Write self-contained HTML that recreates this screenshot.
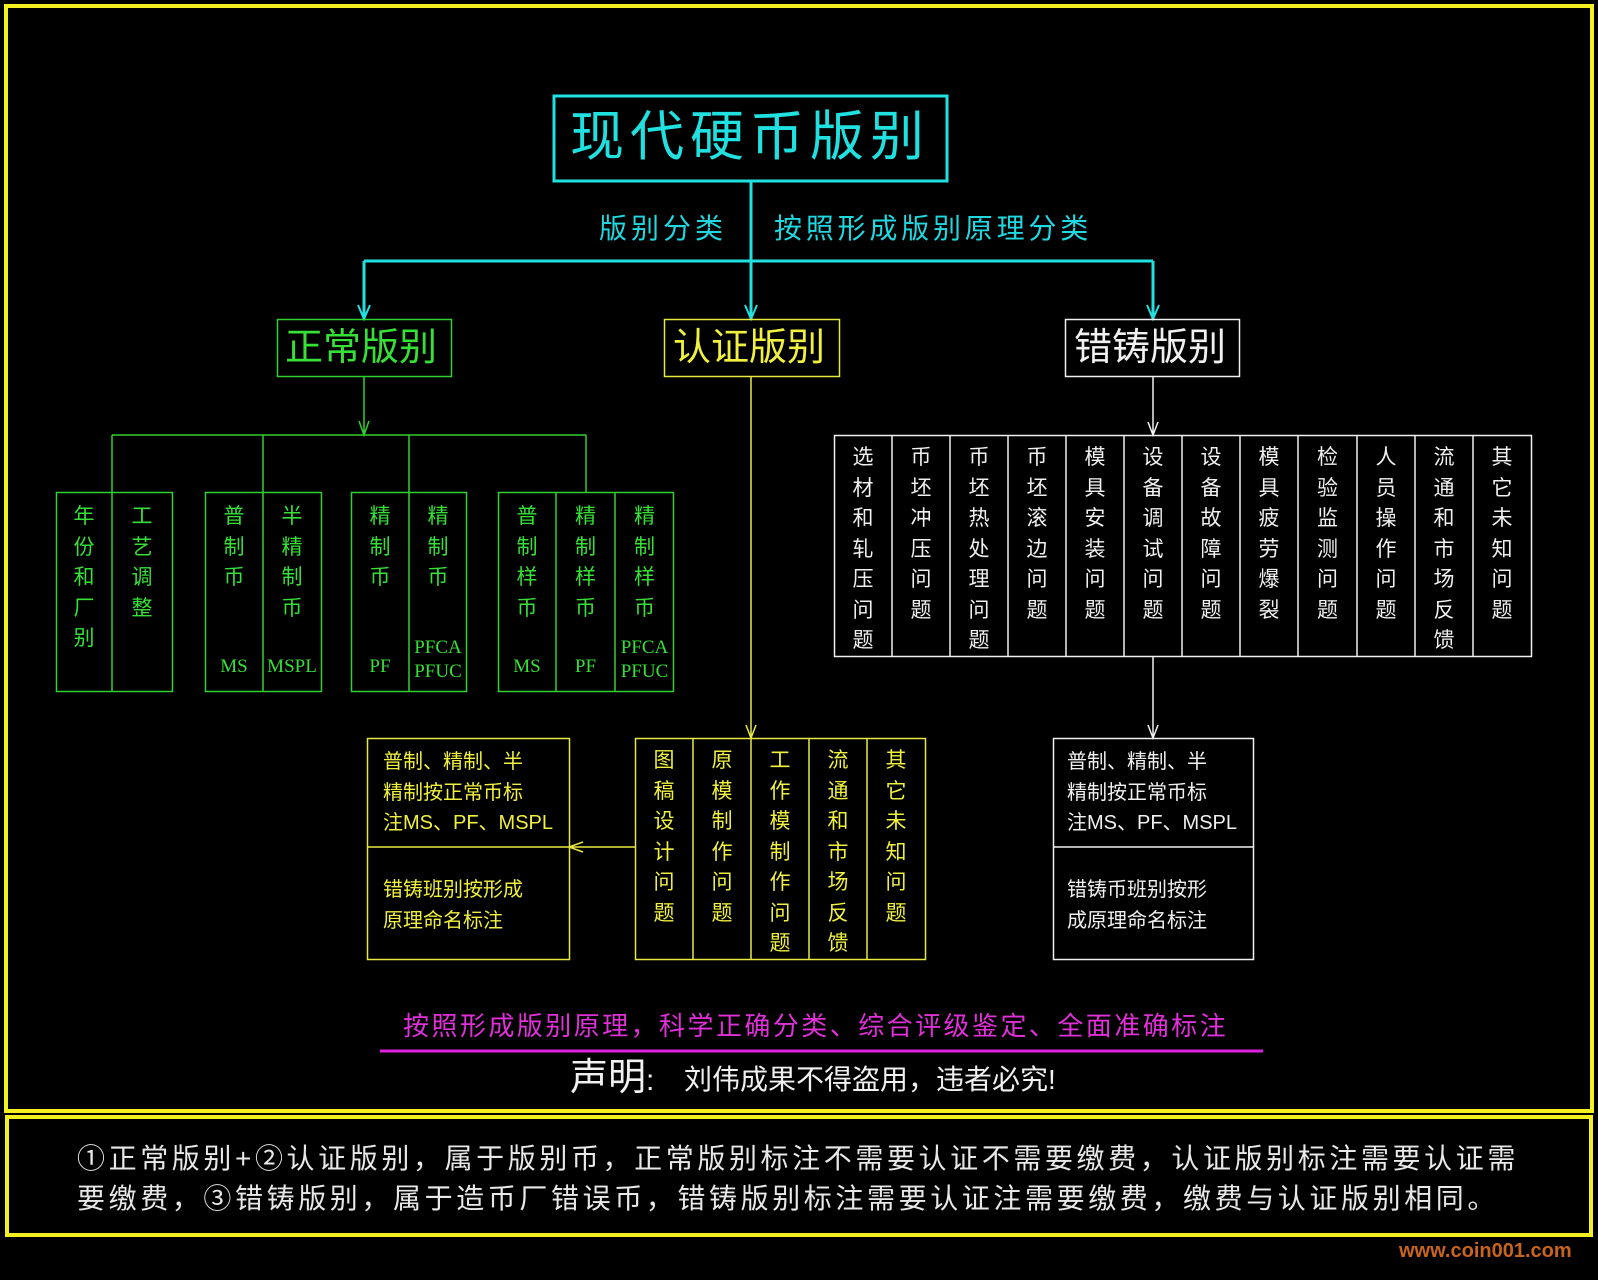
<!DOCTYPE html>
<html><head><meta charset="utf-8"><style>
body{margin:0;background:#000;}
#p{position:relative;width:1598px;height:1280px;background:#000;overflow:hidden;font-family:"Liberation Sans","Noto Sans CJK SC",sans-serif;}
.a{position:absolute;white-space:nowrap;}
.c{position:absolute;text-align:center;font-size:21px;line-height:30.5px;}
.c span{display:block;width:1.05em;margin:0 auto;word-break:break-all;white-space:normal;}
.g{color:#36e036;}.y{color:#f0f040;}.w{color:#f0f0f0;}
.lb{position:absolute;text-align:center;font-size:19px;font-family:"Liberation Serif","Noto Serif CJK SC",serif;line-height:24px;}
</style></head><body><div id="p">
<svg width="1598" height="1280" style="position:absolute;left:0;top:0">
<g fill="none">
<rect x="6" y="6" width="1586" height="1105" stroke="#f4f020" stroke-width="4"/>
<rect x="7" y="1117" width="1584" height="118" stroke="#f4f020" stroke-width="4"/>
<rect x="554" y="96" width="393" height="85" stroke="#20e0e0" stroke-width="3"/>
<g stroke="#20e0e0" stroke-width="3">
<path d="M751 181V319M364 261H1153M364 261V319M1153 261V319"/>
<path d="M358 305L364 319L370 305M745 305L751 319L757 305M1147 305L1153 319L1159 305" stroke-width="2"/>
</g>
<rect x="277.5" y="319.5" width="174" height="57" stroke="#30d030" stroke-width="1.5"/>
<rect x="664.5" y="319.5" width="175" height="57" stroke="#e8e840" stroke-width="1.5"/>
<rect x="1065.5" y="319.5" width="174" height="57" stroke="#f0f0f0" stroke-width="1.5"/>
<g stroke="#30d030" stroke-width="1.5">
<path d="M364 377V435M359 421L364 435L369 421M112 435H586M112 435V492M263 435V492M409 435V492M586 435V492"/>
<rect x="56.5" y="492.5" width="116" height="199"/><path d="M112 492V692"/>
<rect x="205.5" y="492.5" width="116" height="199"/><path d="M263 492V692"/>
<rect x="351.5" y="492.5" width="115" height="199"/><path d="M409 492V692"/>
<rect x="498.5" y="492.5" width="175" height="199"/><path d="M556 492V692M615 492V692"/>
</g>
<g stroke="#e8e840" stroke-width="1.5">
<path d="M751 377V738M746 725L751 738L756 725"/>
<rect x="635.5" y="738.5" width="290" height="221"/><path d="M693 738V960M751 738V960M809 738V960M867 738V960"/>
<rect x="367.5" y="738.5" width="202" height="221"/><path d="M367 847H635M583 842L569 847L583 852"/>
</g>
<g stroke="#f0f0f0" stroke-width="1.5">
<path d="M1153 377V435M1148 422L1153 435L1158 422"/>
<rect x="834.5" y="435.5" width="697" height="221"/>
<path d="M892 435V657M950 435V657M1008 435V657M1066 435V657M1124 435V657M1182 435V657M1240 435V657M1298 435V657M1357 435V657M1415 435V657M1473 435V657"/>
<path d="M1153 657V738M1148 725L1153 738L1158 725"/>
<rect x="1053.5" y="738.5" width="200" height="221"/><path d="M1053 847H1254"/>
</g>
<path d="M380 1051H1263" stroke="#e020e0" stroke-width="3"/>
</g></svg>

<div class="a" style="left:570px;top:105px;font-size:54px;color:#20e0e0;line-height:64px;letter-spacing:6px;">现代硬币版别</div>
<div class="a" style="left:599px;top:207px;font-size:28px;color:#20d8e0;letter-spacing:4px;">版别分类</div>
<div class="a" style="left:774px;top:207px;font-size:28px;color:#20d8e0;letter-spacing:3.8px;">按照形成版别原理分类</div>
<div class="a g" style="left:285px;top:326px;font-size:38px;line-height:44px;">正常版别</div>
<div class="a y" style="left:673px;top:326px;font-size:38px;line-height:44px;">认证版别</div>
<div class="a w" style="left:1074px;top:326px;font-size:38px;line-height:44px;">错铸版别</div>

<div class="c g" style="left:56px;top:502px;width:56px"><span>年份和厂别</span></div>
<div class="c g" style="left:112px;top:502px;width:60px"><span>工艺调整</span></div>
<div class="c g" style="left:205px;top:502px;width:58px"><span>普制币</span></div>
<div class="c g" style="left:263px;top:502px;width:58px"><span>半精制币</span></div>
<div class="c g" style="left:351px;top:502px;width:58px"><span>精制币</span></div>
<div class="c g" style="left:409px;top:502px;width:58px"><span>精制币</span></div>
<div class="c g" style="left:498px;top:502px;width:58px"><span>普制样币</span></div>
<div class="c g" style="left:556px;top:502px;width:59px"><span>精制样币</span></div>
<div class="c g" style="left:615px;top:502px;width:59px"><span>精制样币</span></div>
<div class="lb g" style="left:205px;top:655px;width:58px">MS</div>
<div class="lb g" style="left:263px;top:655px;width:58px">MSPL</div>
<div class="lb g" style="left:351px;top:655px;width:58px">PF</div>
<div class="lb g" style="left:409px;top:636px;width:58px">PFCA<br>PFUC</div>
<div class="lb g" style="left:498px;top:655px;width:58px">MS</div>
<div class="lb g" style="left:556px;top:655px;width:59px">PF</div>
<div class="lb g" style="left:615px;top:636px;width:59px">PFCA<br>PFUC</div>

<div class="c w" style="left:834px;top:443px;width:58px"><span>选材和轧压问题</span></div>
<div class="c w" style="left:892px;top:443px;width:58px"><span>币坯冲压问题</span></div>
<div class="c w" style="left:950px;top:443px;width:58px"><span>币坯热处理问题</span></div>
<div class="c w" style="left:1008px;top:443px;width:58px"><span>币坯滚边问题</span></div>
<div class="c w" style="left:1066px;top:443px;width:58px"><span>模具安装问题</span></div>
<div class="c w" style="left:1124px;top:443px;width:58px"><span>设备调试问题</span></div>
<div class="c w" style="left:1182px;top:443px;width:58px"><span>设备故障问题</span></div>
<div class="c w" style="left:1240px;top:443px;width:58px"><span>模具疲劳爆裂</span></div>
<div class="c w" style="left:1298px;top:443px;width:59px"><span>检验监测问题</span></div>
<div class="c w" style="left:1357px;top:443px;width:58px"><span>人员操作问题</span></div>
<div class="c w" style="left:1415px;top:443px;width:58px"><span>流通和市场反馈</span></div>
<div class="c w" style="left:1473px;top:443px;width:58px"><span>其它未知问题</span></div>

<div class="c y" style="left:635px;top:746px;width:58px"><span>图稿设计问题</span></div>
<div class="c y" style="left:693px;top:746px;width:58px"><span>原模制作问题</span></div>
<div class="c y" style="left:751px;top:746px;width:58px"><span>工作模制作问题</span></div>
<div class="c y" style="left:809px;top:746px;width:58px"><span>流通和市场反馈</span></div>
<div class="c y" style="left:867px;top:746px;width:58px"><span>其它未知问题</span></div>

<div class="a y" style="left:383px;top:747px;font-size:20px;line-height:30.5px;">普制、精制、半<br>精制按正常币标<br>注MS、PF、MSPL</div>
<div class="a y" style="left:383px;top:875px;font-size:20px;line-height:30.5px;">错铸班别按形成<br>原理命名标注</div>
<div class="a w" style="left:1067px;top:747px;font-size:20px;line-height:30.5px;">普制、精制、半<br>精制按正常币标<br>注MS、PF、MSPL</div>
<div class="a w" style="left:1067px;top:875px;font-size:20px;line-height:30.5px;">错铸币班别按形<br>成原理命名标注</div>

<div class="a" style="left:403px;top:1006px;font-size:26px;color:#e030d8;letter-spacing:2.45px;">按照形成版别原理，科学正确分类、综合评级鉴定、全面准确标注</div>
<div class="a w" style="left:570px;top:1055px;font-size:38px;line-height:46px;">声明<span style="font-size:30px">:</span></div>
<div class="a w" style="left:684px;top:1063px;font-size:28px;line-height:34px;">刘伟成果不得盗用，违者必究!</div>

<div class="a" style="left:77px;top:1139px;font-size:28px;line-height:40px;color:#e8e8e8;letter-spacing:3.6px;">①正常版别+②认证版别，属于版别币，正常版别标注不需要认证不需要缴费，认证版别标注需要认证需<br>要缴费，③错铸版别，属于造币厂错误币，错铸版别标注需要认证注需要缴费，缴费与认证版别相同。</div>
<div class="a" style="left:1399px;top:1240px;font-size:20px;font-weight:bold;color:#c8641e;">www.coin001.com</div>
</div></body></html>
